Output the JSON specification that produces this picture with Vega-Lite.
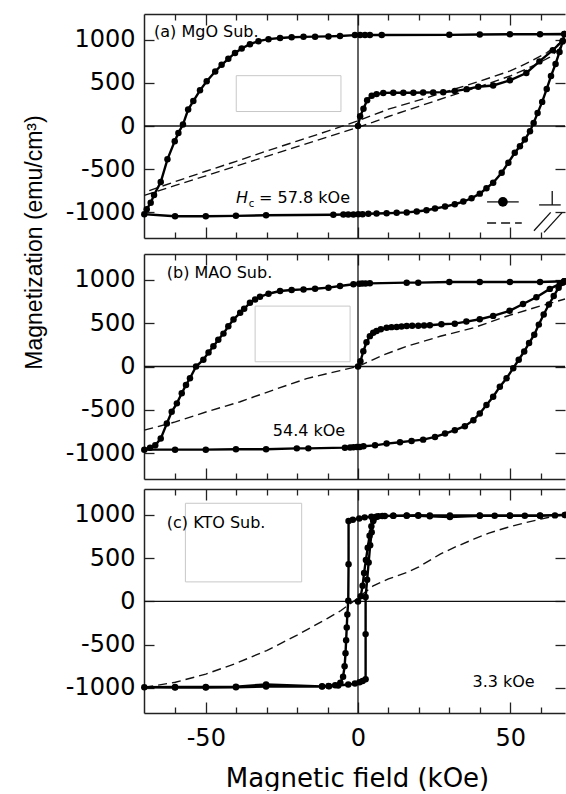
{
  "$schema": "https://vega.github.io/schema/vega-lite/v6.json",
  "padding": {"left": 23, "top": 13, "right": 0, "bottom": 0},
  "background": "white",
  "bounds": "flush",
  "spacing": 16,
  "config": {
    "view": {"stroke": null},
    "axis": {"grid": false, "labelFont": "DejaVu Sans", "labelFontSize": 24, "labelColor": "#000", "tickColor": "#222", "tickWidth": 1.3, "domainColor": "#222", "domainWidth": 1.5, "labelOverlap": false, "labelFlush": false}
  },
  "datasets": {
    "a_box": [{"x1": -40, "x2": -5.6, "y1": 168, "y2": 584}],
    "b_box": [{"x1": -33.8, "x2": -2.6, "y1": 55, "y2": 698}],
    "c_box": [{"x1": -56.7, "x2": -18.5, "y1": 226, "y2": 1135}],
    "a_text": [{"H": -67.0, "M": 1035, "label": "(a) MgO Sub."}, {"H": -32.5, "M": -896, "label": "= 57.8 kOe"}],
    "b_text": [{"H": -62.8, "M": 1026, "label": "(b) MAO Sub."}, {"H": -28.0, "M": -799, "label": "54.4 kOe"}],
    "c_text": [{"H": -62.8, "M": 850, "label": "(c) KTO Sub."}, {"H": 37.6, "M": -993, "label": "3.3 kOe"}],
    "a_sym": [
      {"H": 63.8, "M": -754, "H2": 63.8, "M2": -916},
      {"H": 59.5, "M": -916, "H2": 66.6, "M2": -916},
      {"H": 57.8, "M": -1216, "H2": 63.3, "M2": -1003},
      {"H": 61.1, "M": -1235, "H2": 67.1, "M2": -1003}
    ],
    "a_dash": [
      {"s": "up", "H": 67.8, "M": 1000}, {"s": "up", "H": 62, "M": 850}, {"s": "up", "H": 55, "M": 720}, {"s": "up", "H": 50, "M": 640}, {"s": "up", "H": 40, "M": 520}, {"s": "up", "H": 30, "M": 410}, {"s": "up", "H": 20, "M": 300}, {"s": "up", "H": 10, "M": 195}, {"s": "up", "H": 0, "M": 60}, {"s": "up", "H": -10, "M": -60}, {"s": "up", "H": -20, "M": -175}, {"s": "up", "H": -30, "M": -290}, {"s": "up", "H": -40, "M": -410}, {"s": "up", "H": -50, "M": -525}, {"s": "up", "H": -60, "M": -645}, {"s": "up", "H": -70.2, "M": -770},
      {"s": "dn", "H": -70.2, "M": -805}, {"s": "dn", "H": -60, "M": -690}, {"s": "dn", "H": -50, "M": -578}, {"s": "dn", "H": -40, "M": -465}, {"s": "dn", "H": -30, "M": -352}, {"s": "dn", "H": -20, "M": -240}, {"s": "dn", "H": -10, "M": -128}, {"s": "dn", "H": 0, "M": -15}, {"s": "dn", "H": 5, "M": 45}, {"s": "dn", "H": 10, "M": 110}, {"s": "dn", "H": 20, "M": 228}, {"s": "dn", "H": 30, "M": 345}, {"s": "dn", "H": 40, "M": 458}, {"s": "dn", "H": 50, "M": 580}, {"s": "dn", "H": 58, "M": 705}, {"s": "dn", "H": 63, "M": 800}, {"s": "dn", "H": 66, "M": 890}, {"s": "dn", "H": 67.8, "M": 1000},
      {"s": "leg", "H": 42.4, "M": -1126}, {"s": "leg", "H": 53.8, "M": -1126}
    ],
    "b_dash": [
      {"s": "d", "H": -70.2, "M": -736}, {"s": "d", "H": -60, "M": -640}, {"s": "d", "H": -49.7, "M": -523}, {"s": "d", "H": -38.7, "M": -407}, {"s": "d", "H": -27.8, "M": -271}, {"s": "d", "H": -16.9, "M": -140}, {"s": "d", "H": -5.9, "M": -47}, {"s": "d", "H": 0, "M": 0}, {"s": "d", "H": 5, "M": 80}, {"s": "d", "H": 8.6, "M": 137}, {"s": "d", "H": 16, "M": 233}, {"s": "d", "H": 27, "M": 349}, {"s": "d", "H": 37.9, "M": 446}, {"s": "d", "H": 48.8, "M": 581}, {"s": "d", "H": 59.8, "M": 698}, {"s": "d", "H": 68, "M": 780}
    ],
    "c_dash": [
      {"s": "d", "H": -70.2, "M": -993}, {"s": "d", "H": -60, "M": -935}, {"s": "d", "H": -50, "M": -840}, {"s": "d", "H": -40, "M": -715}, {"s": "d", "H": -30, "M": -568}, {"s": "d", "H": -20, "M": -390}, {"s": "d", "H": -10, "M": -195}, {"s": "d", "H": -5.7, "M": -108}, {"s": "d", "H": 0, "M": 40}, {"s": "d", "H": 5, "M": 181}, {"s": "d", "H": 10, "M": 260}, {"s": "d", "H": 16, "M": 335}, {"s": "d", "H": 20, "M": 400}, {"s": "d", "H": 27, "M": 547}, {"s": "d", "H": 32, "M": 630}, {"s": "d", "H": 38, "M": 720}, {"s": "d", "H": 43, "M": 790}, {"s": "d", "H": 49, "M": 855}, {"s": "d", "H": 55, "M": 910}, {"s": "d", "H": 60, "M": 951}, {"s": "d", "H": 65, "M": 990}, {"s": "d", "H": 68, "M": 1000}
    ],
    "a_solid": [
      {"s": "loop", "H": 67.8, "M": 1068}, {"s": "loop", "H": 59.8, "M": 1065}, {"s": "loop", "H": 49.9, "M": 1065}, {"s": "loop", "H": 40.0, "M": 1062}, {"s": "loop", "H": 30.0, "M": 1058}, {"s": "loop", "H": 7.8, "M": 1057}, {"s": "loop", "H": 3.9, "M": 1057}, {"s": "loop", "H": 2.3, "M": 1056}, {"s": "loop", "H": 0.7, "M": 1055}, {"s": "loop", "H": -1.0, "M": 1055}, {"s": "loop", "H": -5.9, "M": 1045}, {"s": "loop", "H": -9.7, "M": 1040}, {"s": "loop", "H": -14.1, "M": 1037}, {"s": "loop", "H": -17.9, "M": 1035}, {"s": "loop", "H": -21.8, "M": 1030}, {"s": "loop", "H": -25.6, "M": 1022}, {"s": "loop", "H": -29.4, "M": 1008}, {"s": "loop", "H": -32.7, "M": 985}, {"s": "loop", "H": -35.5, "M": 950}, {"s": "loop", "H": -38.2, "M": 900}, {"s": "loop", "H": -40.4, "M": 848}, {"s": "loop", "H": -42.6, "M": 780}, {"s": "loop", "H": -44.8, "M": 710}, {"s": "loop", "H": -46.9, "M": 633}, {"s": "loop", "H": -49.7, "M": 520}, {"s": "loop", "H": -51.9, "M": 414}, {"s": "loop", "H": -54.1, "M": 290}, {"s": "loop", "H": -55.8, "M": 191}, {"s": "loop", "H": -57.5, "M": 17}, {"s": "loop", "H": -59.0, "M": -80}, {"s": "loop", "H": -60.2, "M": -176}, {"s": "loop", "H": -62.6, "M": -387}, {"s": "loop", "H": -64.8, "M": -650}, {"s": "loop", "H": -67.0, "M": -800}, {"s": "loop", "H": -68.1, "M": -890}, {"s": "loop", "H": -69.4, "M": -966}, {"s": "loop", "H": -70.2, "M": -1024},
      {"s": "loop", "H": -60.1, "M": -1048}, {"s": "loop", "H": -50.0, "M": -1048}, {"s": "loop", "H": -40.1, "M": -1043}, {"s": "loop", "H": -30.2, "M": -1036}, {"s": "loop", "H": -8.1, "M": -1030}, {"s": "loop", "H": -4.8, "M": -1028}, {"s": "loop", "H": -3.2, "M": -1026}, {"s": "loop", "H": -1.5, "M": -1026}, {"s": "loop", "H": 0.1, "M": -1024}, {"s": "loop", "H": 1.5, "M": -1024}, {"s": "loop", "H": 3.4, "M": -1018}, {"s": "loop", "H": 6.1, "M": -1016}, {"s": "loop", "H": 9.4, "M": -1012}, {"s": "loop", "H": 12.7, "M": -1008}, {"s": "loop", "H": 16.0, "M": -1003}, {"s": "loop", "H": 19.3, "M": -993}, {"s": "loop", "H": 22.5, "M": -978}, {"s": "loop", "H": 25.3, "M": -958}, {"s": "loop", "H": 28.6, "M": -935}, {"s": "loop", "H": 31.8, "M": -908}, {"s": "loop", "H": 34.6, "M": -877}, {"s": "loop", "H": 37.3, "M": -839}, {"s": "loop", "H": 40.0, "M": -785}, {"s": "loop", "H": 42.2, "M": -723}, {"s": "loop", "H": 44.4, "M": -658}, {"s": "loop", "H": 47.2, "M": -542}, {"s": "loop", "H": 49.4, "M": -426}, {"s": "loop", "H": 51.5, "M": -311}, {"s": "loop", "H": 53.2, "M": -234}, {"s": "loop", "H": 54.8, "M": -157}, {"s": "loop", "H": 56.5, "M": -60}, {"s": "loop", "H": 57.7, "M": 36}, {"s": "loop", "H": 59.0, "M": 150}, {"s": "loop", "H": 60.5, "M": 280}, {"s": "loop", "H": 62.0, "M": 430}, {"s": "loop", "H": 63.4, "M": 580}, {"s": "loop", "H": 64.9, "M": 720}, {"s": "loop", "H": 66.2, "M": 860}, {"s": "loop", "H": 67.2, "M": 980}, {"s": "loop", "H": 67.8, "M": 1068},
      {"s": "init", "H": 0, "M": 0}, {"s": "init", "H": 0.7, "M": 113}, {"s": "init", "H": 1.8, "M": 200}, {"s": "init", "H": 3.0, "M": 300}, {"s": "init", "H": 4.5, "M": 350}, {"s": "init", "H": 6.1, "M": 370}, {"s": "init", "H": 8.3, "M": 384}, {"s": "init", "H": 11.6, "M": 386}, {"s": "init", "H": 14.9, "M": 386}, {"s": "init", "H": 18.2, "M": 386}, {"s": "init", "H": 21.4, "M": 388}, {"s": "init", "H": 24.7, "M": 390}, {"s": "init", "H": 28.0, "M": 393}, {"s": "init", "H": 31.8, "M": 405}, {"s": "init", "H": 35.7, "M": 428}, {"s": "init", "H": 39.5, "M": 455}, {"s": "init", "H": 44.4, "M": 470}, {"s": "init", "H": 49.9, "M": 530}, {"s": "init", "H": 55.3, "M": 615}, {"s": "init", "H": 59.6, "M": 750}, {"s": "init", "H": 64.0, "M": 880}, {"s": "init", "H": 67.3, "M": 990}
    ],
    "b_solid": [
      {"s": "loop", "H": 67.8, "M": 985}, {"s": "loop", "H": 59.8, "M": 977}, {"s": "loop", "H": 49.9, "M": 977}, {"s": "loop", "H": 40.0, "M": 977}, {"s": "loop", "H": 30.0, "M": 977}, {"s": "loop", "H": 19.8, "M": 969}, {"s": "loop", "H": 16.0, "M": 969}, {"s": "loop", "H": 3.9, "M": 961}, {"s": "loop", "H": 2.5, "M": 960}, {"s": "loop", "H": 1.4, "M": 958}, {"s": "loop", "H": 0.4, "M": 955}, {"s": "loop", "H": -1.5, "M": 950}, {"s": "loop", "H": -5.9, "M": 930}, {"s": "loop", "H": -9.7, "M": 911}, {"s": "loop", "H": -14.1, "M": 899}, {"s": "loop", "H": -17.9, "M": 891}, {"s": "loop", "H": -21.8, "M": 884}, {"s": "loop", "H": -25.6, "M": 872}, {"s": "loop", "H": -29.4, "M": 841}, {"s": "loop", "H": -32.2, "M": 806}, {"s": "loop", "H": -33.8, "M": 775}, {"s": "loop", "H": -35.5, "M": 736}, {"s": "loop", "H": -37.4, "M": 667}, {"s": "loop", "H": -38.7, "M": 620}, {"s": "loop", "H": -40.9, "M": 543}, {"s": "loop", "H": -42.6, "M": 465}, {"s": "loop", "H": -44.2, "M": 380}, {"s": "loop", "H": -45.9, "M": 310}, {"s": "loop", "H": -47.5, "M": 233}, {"s": "loop", "H": -49.1, "M": 163}, {"s": "loop", "H": -50.8, "M": 78}, {"s": "loop", "H": -53.2, "M": 0}, {"s": "loop", "H": -55.2, "M": -136}, {"s": "loop", "H": -56.5, "M": -213}, {"s": "loop", "H": -57.9, "M": -310}, {"s": "loop", "H": -59.5, "M": -426}, {"s": "loop", "H": -61.2, "M": -523}, {"s": "loop", "H": -62.8, "M": -659}, {"s": "loop", "H": -64.8, "M": -833}, {"s": "loop", "H": -66.6, "M": -911}, {"s": "loop", "H": -68.3, "M": -938}, {"s": "loop", "H": -70.2, "M": -961},
      {"s": "loop", "H": -60.1, "M": -961}, {"s": "loop", "H": -50.0, "M": -961}, {"s": "loop", "H": -40.1, "M": -957}, {"s": "loop", "H": -30.2, "M": -957}, {"s": "loop", "H": -20.1, "M": -946}, {"s": "loop", "H": -16.3, "M": -946}, {"s": "loop", "H": -4.3, "M": -938}, {"s": "loop", "H": -2.6, "M": -935}, {"s": "loop", "H": -1.5, "M": -933}, {"s": "loop", "H": -0.4, "M": -930}, {"s": "loop", "H": 0.6, "M": -930}, {"s": "loop", "H": 1.8, "M": -922}, {"s": "loop", "H": 5.6, "M": -911}, {"s": "loop", "H": 9.4, "M": -891}, {"s": "loop", "H": 13.8, "M": -876}, {"s": "loop", "H": 17.6, "M": -860}, {"s": "loop", "H": 21.4, "M": -845}, {"s": "loop", "H": 25.3, "M": -814}, {"s": "loop", "H": 28.6, "M": -775}, {"s": "loop", "H": 31.8, "M": -736}, {"s": "loop", "H": 35.1, "M": -690}, {"s": "loop", "H": 37.9, "M": -620}, {"s": "loop", "H": 40.0, "M": -543}, {"s": "loop", "H": 42.2, "M": -446}, {"s": "loop", "H": 44.4, "M": -349}, {"s": "loop", "H": 46.6, "M": -233}, {"s": "loop", "H": 48.8, "M": -136}, {"s": "loop", "H": 51.0, "M": -19}, {"s": "loop", "H": 52.8, "M": 78}, {"s": "loop", "H": 54.6, "M": 174}, {"s": "loop", "H": 56.2, "M": 271}, {"s": "loop", "H": 57.9, "M": 368}, {"s": "loop", "H": 59.4, "M": 484}, {"s": "loop", "H": 61.0, "M": 601}, {"s": "loop", "H": 62.7, "M": 717}, {"s": "loop", "H": 64.3, "M": 814}, {"s": "loop", "H": 65.9, "M": 911}, {"s": "loop", "H": 67.2, "M": 969}, {"s": "loop", "H": 67.8, "M": 985},
      {"s": "init", "H": 0, "M": 0}, {"s": "init", "H": 0.8, "M": 60}, {"s": "init", "H": 1.75, "M": 176}, {"s": "init", "H": 2.8, "M": 280}, {"s": "init", "H": 3.9, "M": 351}, {"s": "init", "H": 5.0, "M": 390}, {"s": "init", "H": 6.1, "M": 409}, {"s": "init", "H": 7.5, "M": 430}, {"s": "init", "H": 9.4, "M": 449}, {"s": "init", "H": 11.0, "M": 455}, {"s": "init", "H": 12.7, "M": 457}, {"s": "init", "H": 14.3, "M": 462}, {"s": "init", "H": 16.0, "M": 468}, {"s": "init", "H": 17.8, "M": 470}, {"s": "init", "H": 19.8, "M": 472}, {"s": "init", "H": 21.7, "M": 474}, {"s": "init", "H": 23.6, "M": 476}, {"s": "init", "H": 27.4, "M": 488}, {"s": "init", "H": 31.8, "M": 495}, {"s": "init", "H": 35.6, "M": 519}, {"s": "init", "H": 40.0, "M": 546}, {"s": "init", "H": 44.4, "M": 585}, {"s": "init", "H": 49.8, "M": 643}, {"s": "init", "H": 54.2, "M": 722}, {"s": "init", "H": 58.6, "M": 800}, {"s": "init", "H": 63.0, "M": 897}, {"s": "init", "H": 66.3, "M": 955}, {"s": "init", "H": 67.8, "M": 985}
    ],
    "c_solid": [
      {"s": "loop", "H": 68.0, "M": 1000}, {"s": "loop", "H": 64.7, "M": 995}, {"s": "loop", "H": 59.8, "M": 990}, {"s": "loop", "H": 54.8, "M": 990}, {"s": "loop", "H": 49.9, "M": 990}, {"s": "loop", "H": 44.9, "M": 990}, {"s": "loop", "H": 40.0, "M": 990}, {"s": "loop", "H": 30.2, "M": 975}, {"s": "loop", "H": 23.6, "M": 985}, {"s": "loop", "H": 19.8, "M": 990}, {"s": "loop", "H": 16.0, "M": 990}, {"s": "loop", "H": 11.6, "M": 990}, {"s": "loop", "H": 8.8, "M": 988}, {"s": "loop", "H": 6.7, "M": 985}, {"s": "loop", "H": 4.4, "M": 980}, {"s": "loop", "H": 2.2, "M": 972}, {"s": "loop", "H": 0.4, "M": 960}, {"s": "loop", "H": -1.7, "M": 945}, {"s": "loop", "H": -3.1, "M": 930}, {"s": "loop", "H": -3.1, "M": 431}, {"s": "loop", "H": -3.2, "M": 7}, {"s": "loop", "H": -3.5, "M": -150}, {"s": "loop", "H": -3.7, "M": -300}, {"s": "loop", "H": -3.9, "M": -450}, {"s": "loop", "H": -4.1, "M": -600}, {"s": "loop", "H": -4.4, "M": -750}, {"s": "loop", "H": -4.9, "M": -870}, {"s": "loop", "H": -5.8, "M": -940}, {"s": "loop", "H": -7.5, "M": -968}, {"s": "loop", "H": -9.7, "M": -978}, {"s": "loop", "H": -11.8, "M": -982}, {"s": "loop", "H": -30.2, "M": -960}, {"s": "loop", "H": -40.1, "M": -985}, {"s": "loop", "H": -50.0, "M": -990}, {"s": "loop", "H": -60.1, "M": -990}, {"s": "loop", "H": -70.2, "M": -993},
      {"s": "loop", "H": -60.1, "M": -995}, {"s": "loop", "H": -50.0, "M": -995}, {"s": "loop", "H": -40.1, "M": -993}, {"s": "loop", "H": -30.2, "M": -985}, {"s": "loop", "H": -11.8, "M": -985}, {"s": "loop", "H": -9.5, "M": -980}, {"s": "loop", "H": -6.5, "M": -972}, {"s": "loop", "H": -3.2, "M": -960}, {"s": "loop", "H": -1.0, "M": -950}, {"s": "loop", "H": 0.5, "M": -935}, {"s": "loop", "H": 1.5, "M": -920}, {"s": "loop", "H": 2.5, "M": -900}, {"s": "loop", "H": 2.5, "M": -378}, {"s": "loop", "H": 2.5, "M": 50}, {"s": "loop", "H": 3.0, "M": 250}, {"s": "loop", "H": 3.5, "M": 450}, {"s": "loop", "H": 4.0, "M": 650}, {"s": "loop", "H": 4.5, "M": 800}, {"s": "loop", "H": 5.0, "M": 930}, {"s": "loop", "H": 6.0, "M": 980}, {"s": "loop", "H": 8.0, "M": 988}, {"s": "loop", "H": 11.6, "M": 992}, {"s": "loop", "H": 16.0, "M": 995}, {"s": "loop", "H": 19.8, "M": 998}, {"s": "loop", "H": 23.6, "M": 995}, {"s": "loop", "H": 30.2, "M": 995}, {"s": "loop", "H": 40.0, "M": 995}, {"s": "loop", "H": 49.9, "M": 995}, {"s": "loop", "H": 59.8, "M": 995}, {"s": "loop", "H": 68.0, "M": 1000},
      {"s": "init", "H": 0, "M": 0}, {"s": "init", "H": 0.9, "M": 60}, {"s": "init", "H": 1.5, "M": 180}, {"s": "init", "H": 2.0, "M": 330}, {"s": "init", "H": 2.6, "M": 480}, {"s": "init", "H": 3.2, "M": 620}, {"s": "init", "H": 3.8, "M": 760}, {"s": "init", "H": 4.4, "M": 870}, {"s": "init", "H": 5.0, "M": 940}, {"s": "init", "H": 6.0, "M": 975}
    ]
  },
  "vconcat": [
    {
      "width": 421,
      "height": 224,
      "resolve": {"axis": {"x": "independent", "y": "independent"}},
      "layer": [
        {
          "data": {"name": "a_box"},
          "mark": {"type": "rect", "fill": "white", "stroke": "#c8c8c8", "strokeWidth": 1},
          "encoding": {
            "x": {"field": "x1", "type": "quantitative", "scale": {"domain": [-70.3, 68.0], "nice": false, "zero": false}, "axis": {"orient": "bottom", "values": [-50, 0, 50], "ticks": false, "labels": false, "domain": true, "title": null}},
            "x2": {"field": "x2"},
            "y": {"field": "y1", "type": "quantitative", "scale": {"domain": [-1300, 1300], "nice": false, "zero": false}, "axis": {"orient": "left", "values": [-1000, -500, 0, 500, 1000], "ticks": false, "domain": true, "labelPadding": 9, "labelExpr": "'' + datum.value", "title": "Magnetization (emu/cm³)", "titleFont": "Liberation Sans", "titleFontSize": 23, "titleFontWeight": "normal", "titleColor": "#000", "titleAngle": 270, "titleAlign": "center", "titleBaseline": "top", "titleX": -121, "titleY": 228}},
            "y2": {"field": "y2"}
          }
        },
        {
          "data": {"values": [{"H": 0}]},
          "mark": {"type": "rule", "color": "#111", "strokeWidth": 1.3},
          "encoding": {"x": {"field": "H", "type": "quantitative", "scale": {"domain": [-70.3, 68.0], "nice": false, "zero": false}, "axis": {"orient": "bottom", "values": [-50, 0, 50], "labels": false, "domain": false, "tickSize": -11, "title": null}}}
        },
        {
          "data": {"values": [{"M": 0}]},
          "mark": {"type": "rule", "color": "#111", "strokeWidth": 1.3},
          "encoding": {"y": {"field": "M", "type": "quantitative", "scale": {"domain": [-1300, 1300], "nice": false, "zero": false}, "axis": {"orient": "left", "values": [-1000, -500, 0, 500, 1000], "labels": false, "domain": false, "tickSize": -10, "title": null}}}
        },
        {
          "data": {"name": "a_dash"},
          "mark": {"type": "line", "color": "#111", "strokeWidth": 1.4, "strokeDash": [9, 5]},
          "encoding": {
            "x": {"field": "H", "type": "quantitative", "scale": {"domain": [-70.3, 68.0], "nice": false, "zero": false}, "axis": {"orient": "bottom", "values": [-60, -40, -30, -20, -10, 10, 20, 30, 40, 60], "labels": false, "domain": false, "tickSize": -6, "title": null}},
            "y": {"field": "M", "type": "quantitative", "scale": {"domain": [-1300, 1300], "nice": false, "zero": false}, "axis": {"orient": "right", "values": [-1000, -500, 0, 500, 1000], "labels": false, "domain": false, "tickSize": -10, "title": null}},
            "detail": {"field": "s"},
            "order": {"value": null}
          }
        },
        {
          "data": {"name": "a_solid"},
          "mark": {"type": "line", "color": "#000", "strokeWidth": 2.4, "point": {"filled": true, "size": 42, "color": "#000"}},
          "encoding": {
            "x": {"field": "H", "type": "quantitative", "scale": {"domain": [-70.3, 68.0], "nice": false, "zero": false}, "axis": {"orient": "top", "values": [-50, 0, 50], "labels": false, "domain": true, "tickSize": -11, "title": null}},
            "y": {"field": "M", "type": "quantitative", "scale": {"domain": [-1300, 1300], "nice": false, "zero": false}, "axis": null},
            "detail": {"field": "s"},
            "order": {"value": null}
          }
        },
        {
          "data": {"name": "a_text"},
          "mark": {"type": "text", "align": "left", "baseline": "alphabetic", "font": "DejaVu Sans", "fontSize": 16, "color": "#000"},
          "encoding": {
            "x": {"field": "H", "type": "quantitative", "scale": {"domain": [-70.3, 68.0], "nice": false, "zero": false}, "axis": {"orient": "top", "values": [-60, -40, -30, -20, -10, 10, 20, 30, 40, 60], "labels": false, "domain": false, "tickSize": -6, "title": null}},
            "y": {"field": "M", "type": "quantitative", "scale": {"domain": [-1300, 1300], "nice": false, "zero": false}, "axis": null},
            "text": {"field": "label"}
          }
        },
        {
          "data": {"values": [{"H": -40.1, "M": -896, "label": "H"}]},
          "mark": {"type": "text", "align": "left", "baseline": "alphabetic", "font": "DejaVu Sans", "fontSize": 16, "fontStyle": "italic", "color": "#000"},
          "encoding": {
            "x": {"field": "H", "type": "quantitative", "scale": {"domain": [-70.3, 68.0], "nice": false, "zero": false}, "axis": null},
            "y": {"field": "M", "type": "quantitative", "scale": {"domain": [-1300, 1300], "nice": false, "zero": false}, "axis": null},
            "text": {"field": "label"}
          }
        },
        {
          "data": {"values": [{"H": -35.9, "M": -945, "label": "c"}]},
          "mark": {"type": "text", "align": "left", "baseline": "alphabetic", "font": "DejaVu Sans", "fontSize": 10, "color": "#000"},
          "encoding": {
            "x": {"field": "H", "type": "quantitative", "scale": {"domain": [-70.3, 68.0], "nice": false, "zero": false}, "axis": null},
            "y": {"field": "M", "type": "quantitative", "scale": {"domain": [-1300, 1300], "nice": false, "zero": false}, "axis": null},
            "text": {"field": "label"}
          }
        },
        {
          "data": {"name": "a_sym"},
          "mark": {"type": "rule", "color": "#111", "strokeWidth": 1.3},
          "encoding": {
            "x": {"field": "H", "type": "quantitative", "scale": {"domain": [-70.3, 68.0], "nice": false, "zero": false}, "axis": null},
            "x2": {"field": "H2"},
            "y": {"field": "M", "type": "quantitative", "scale": {"domain": [-1300, 1300], "nice": false, "zero": false}, "axis": null},
            "y2": {"field": "M2"}
          }
        },
        {
          "data": {"values": [{"H": 42.4, "M": -881}, {"H": 52.8, "M": -881}]},
          "mark": {"type": "line", "color": "#111", "strokeWidth": 1.3},
          "encoding": {
            "x": {"field": "H", "type": "quantitative", "scale": {"domain": [-70.3, 68.0], "nice": false, "zero": false}, "axis": null},
            "y": {"field": "M", "type": "quantitative", "scale": {"domain": [-1300, 1300], "nice": false, "zero": false}, "axis": null}
          }
        },
        {
          "data": {"values": [{"H": 47.6, "M": -881}]},
          "mark": {"type": "point", "filled": true, "size": 95, "color": "#000", "opacity": 1},
          "encoding": {
            "x": {"field": "H", "type": "quantitative", "scale": {"domain": [-70.3, 68.0], "nice": false, "zero": false}, "axis": null},
            "y": {"field": "M", "type": "quantitative", "scale": {"domain": [-1300, 1300], "nice": false, "zero": false}, "axis": null}
          }
        }
      ]
    },
    {
      "bounds": "flush",
      "spacing": 10,
      "vconcat": [
        {
          "width": 421,
          "height": 225,
          "resolve": {"axis": {"x": "independent", "y": "independent"}},
          "layer": [
            {
              "data": {"name": "b_box"},
              "mark": {"type": "rect", "fill": "white", "stroke": "#c8c8c8", "strokeWidth": 1},
              "encoding": {
                "x": {"field": "x1", "type": "quantitative", "scale": {"domain": [-70.3, 68.0], "nice": false, "zero": false}, "axis": {"orient": "bottom", "values": [-50, 0, 50], "ticks": false, "labels": false, "domain": true, "title": null}},
                "x2": {"field": "x2"},
                "y": {"field": "y1", "type": "quantitative", "scale": {"domain": [-1300, 1300], "nice": false, "zero": false}, "axis": {"orient": "left", "values": [-1000, -500, 0, 500, 1000], "ticks": false, "domain": true, "labelPadding": 9, "labelExpr": "'' + datum.value", "title": null}},
                "y2": {"field": "y2"}
              }
            },
            {
              "data": {"values": [{"H": 0}]},
              "mark": {"type": "rule", "color": "#111", "strokeWidth": 1.3},
              "encoding": {"x": {"field": "H", "type": "quantitative", "scale": {"domain": [-70.3, 68.0], "nice": false, "zero": false}, "axis": {"orient": "bottom", "values": [-50, 0, 50], "labels": false, "domain": false, "tickSize": -11, "title": null}}}
            },
            {
              "data": {"values": [{"M": 0}]},
              "mark": {"type": "rule", "color": "#111", "strokeWidth": 1.3},
              "encoding": {"y": {"field": "M", "type": "quantitative", "scale": {"domain": [-1300, 1300], "nice": false, "zero": false}, "axis": {"orient": "left", "values": [-1000, -500, 0, 500, 1000], "labels": false, "domain": false, "tickSize": -10, "title": null}}}
            },
            {
              "data": {"name": "b_dash"},
              "mark": {"type": "line", "color": "#111", "strokeWidth": 1.4, "strokeDash": [9, 5]},
              "encoding": {
                "x": {"field": "H", "type": "quantitative", "scale": {"domain": [-70.3, 68.0], "nice": false, "zero": false}, "axis": {"orient": "bottom", "values": [-60, -40, -30, -20, -10, 10, 20, 30, 40, 60], "labels": false, "domain": false, "tickSize": -6, "title": null}},
                "y": {"field": "M", "type": "quantitative", "scale": {"domain": [-1300, 1300], "nice": false, "zero": false}, "axis": {"orient": "right", "values": [-1000, -500, 0, 500, 1000], "labels": false, "domain": false, "tickSize": -10, "title": null}},
                "detail": {"field": "s"},
                "order": {"value": null}
              }
            },
            {
              "data": {"name": "b_solid"},
              "mark": {"type": "line", "color": "#000", "strokeWidth": 2.4, "point": {"filled": true, "size": 42, "color": "#000"}},
              "encoding": {
                "x": {"field": "H", "type": "quantitative", "scale": {"domain": [-70.3, 68.0], "nice": false, "zero": false}, "axis": {"orient": "top", "values": [-50, 0, 50], "labels": false, "domain": true, "tickSize": -11, "title": null}},
                "y": {"field": "M", "type": "quantitative", "scale": {"domain": [-1300, 1300], "nice": false, "zero": false}, "axis": null},
                "detail": {"field": "s"},
                "order": {"value": null}
              }
            },
            {
              "data": {"name": "b_text"},
              "mark": {"type": "text", "align": "left", "baseline": "alphabetic", "font": "DejaVu Sans", "fontSize": 16, "color": "#000"},
              "encoding": {
                "x": {"field": "H", "type": "quantitative", "scale": {"domain": [-70.3, 68.0], "nice": false, "zero": false}, "axis": {"orient": "top", "values": [-60, -40, -30, -20, -10, 10, 20, 30, 40, 60], "labels": false, "domain": false, "tickSize": -6, "title": null}},
                "y": {"field": "M", "type": "quantitative", "scale": {"domain": [-1300, 1300], "nice": false, "zero": false}, "axis": null},
                "text": {"field": "label"}
              }
            }
          ]
        },
        {
          "width": 421,
          "height": 224,
          "resolve": {"axis": {"x": "independent", "y": "independent"}},
          "layer": [
            {
              "data": {"name": "c_box"},
              "mark": {"type": "rect", "fill": "white", "stroke": "#c8c8c8", "strokeWidth": 1},
              "encoding": {
                "x": {"field": "x1", "type": "quantitative", "scale": {"domain": [-70.3, 68.0], "nice": false, "zero": false}, "axis": {"orient": "bottom", "values": [-50, 0, 50], "ticks": false, "labels": true, "domain": true, "labelPadding": 32, "labelBaseline": "alphabetic", "labelExpr": "'' + datum.value", "title": "Magnetic field (kOe)", "titleFont": "DejaVu Sans", "titleFontSize": 26, "titleFontWeight": "normal", "titleColor": "#000", "titleBaseline": "alphabetic", "titleAlign": "center", "titleX": 213, "titleY": 73}},
                "x2": {"field": "x2"},
                "y": {"field": "y1", "type": "quantitative", "scale": {"domain": [-1290, 1300], "nice": false, "zero": false}, "axis": {"orient": "left", "values": [-1000, -500, 0, 500, 1000], "ticks": false, "domain": true, "labelPadding": 9, "labelExpr": "'' + datum.value", "title": null}},
                "y2": {"field": "y2"}
              }
            },
            {
              "data": {"values": [{"H": 0}]},
              "mark": {"type": "rule", "color": "#111", "strokeWidth": 1.3},
              "encoding": {"x": {"field": "H", "type": "quantitative", "scale": {"domain": [-70.3, 68.0], "nice": false, "zero": false}, "axis": {"orient": "bottom", "values": [-50, 0, 50], "labels": false, "domain": false, "tickSize": -11, "title": null}}}
            },
            {
              "data": {"values": [{"M": 0}]},
              "mark": {"type": "rule", "color": "#111", "strokeWidth": 1.3},
              "encoding": {"y": {"field": "M", "type": "quantitative", "scale": {"domain": [-1290, 1300], "nice": false, "zero": false}, "axis": {"orient": "left", "values": [-1000, -500, 0, 500, 1000], "labels": false, "domain": false, "tickSize": -10, "title": null}}}
            },
            {
              "data": {"name": "c_dash"},
              "mark": {"type": "line", "color": "#111", "strokeWidth": 1.4, "strokeDash": [9, 5]},
              "encoding": {
                "x": {"field": "H", "type": "quantitative", "scale": {"domain": [-70.3, 68.0], "nice": false, "zero": false}, "axis": {"orient": "bottom", "values": [-60, -40, -30, -20, -10, 10, 20, 30, 40, 60], "labels": false, "domain": false, "tickSize": -6, "title": null}},
                "y": {"field": "M", "type": "quantitative", "scale": {"domain": [-1290, 1300], "nice": false, "zero": false}, "axis": {"orient": "right", "values": [-1000, -500, 0, 500, 1000], "labels": false, "domain": false, "tickSize": -10, "title": null}},
                "detail": {"field": "s"},
                "order": {"value": null}
              }
            },
            {
              "data": {"name": "c_solid"},
              "mark": {"type": "line", "color": "#000", "strokeWidth": 2.4, "point": {"filled": true, "size": 42, "color": "#000"}},
              "encoding": {
                "x": {"field": "H", "type": "quantitative", "scale": {"domain": [-70.3, 68.0], "nice": false, "zero": false}, "axis": {"orient": "top", "values": [-50, 0, 50], "labels": false, "domain": true, "tickSize": -11, "title": null}},
                "y": {"field": "M", "type": "quantitative", "scale": {"domain": [-1290, 1300], "nice": false, "zero": false}, "axis": null},
                "detail": {"field": "s"},
                "order": {"value": null}
              }
            },
            {
              "data": {"name": "c_text"},
              "mark": {"type": "text", "align": "left", "baseline": "alphabetic", "font": "DejaVu Sans", "fontSize": 16, "color": "#000"},
              "encoding": {
                "x": {"field": "H", "type": "quantitative", "scale": {"domain": [-70.3, 68.0], "nice": false, "zero": false}, "axis": {"orient": "top", "values": [-60, -40, -30, -20, -10, 10, 20, 30, 40, 60], "labels": false, "domain": false, "tickSize": -6, "title": null}},
                "y": {"field": "M", "type": "quantitative", "scale": {"domain": [-1290, 1300], "nice": false, "zero": false}, "axis": null},
                "text": {"field": "label"}
              }
            }
          ]
        }
      ]
    }
  ]
}
